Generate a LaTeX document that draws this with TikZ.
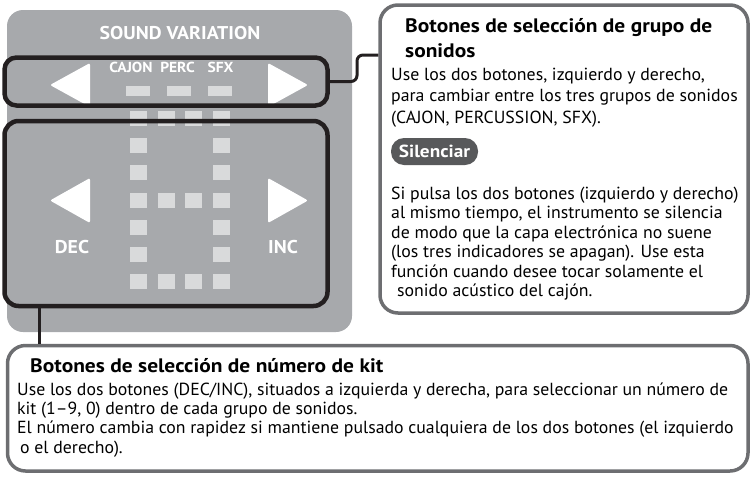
\documentclass[tikz,border=0pt]{standalone}
\usepackage{fontspec}
\setmainfont{PT Sans}
\newfontfamily\rfont[FakeStretch=1.017]{PT Sans}
\newfontfamily\bfont[FakeStretch=1.015]{PT Sans}
\newfontfamily\tfont[FakeStretch=1.10]{PT Sans}
\newfontfamily\pfont[FakeStretch=1.07]{PT Sans}
\definecolor{panelgray}{HTML}{A7A9AC}
\definecolor{ledgray}{HTML}{D9DADB}
\definecolor{ink}{HTML}{231F20}
\definecolor{framegray}{HTML}{6D6E71}
\definecolor{badgegray}{HTML}{58595B}
\begin{document}
\begin{tikzpicture}[x=1pt,y=-1pt,
  innerbox/.style={rectangle, draw=ink, line width=4.5pt, inner sep=0pt},
  framebox/.style={rectangle, draw=framegray, line width=3.5pt, rounded corners=18pt, inner sep=0pt},
  plbl/.style={text=white, inner sep=0pt, font=\pfont\bfseries\fontsize{#1}{#1}\selectfont},
  rbodytxt/.style={anchor=base west, inner sep=0pt, align=left, font=\rfont\fontsize{17.5}{#1}\selectfont},
  bbodytxt/.style={anchor=base west, inner sep=0pt, align=left, font=\bfont\fontsize{17.5}{#1}\selectfont},
  titletxt/.style={anchor=base west, inner sep=0pt, align=left, font=\tfont\bfseries\fontsize{19.5}{25}\selectfont},
  led/.style={fill=ledgray},
  tri/.style={fill=white, rounded corners=2pt},
  conn/.style={draw=ink, line width=3pt}
]
\useasboundingbox (0,0) rectangle (751,477);
% panel
\node[rectangle, fill=panelgray, rounded corners=16pt, minimum width=345pt, minimum height=322pt, inner sep=0pt] (panel) at (179.5,171) {};
% group LEDs
\fill[led] (126,86) rectangle (150,96);
\fill[led] (167,86) rectangle (191,96);
\fill[led] (208,86) rectangle (232,96);
% dot matrix
\foreach \r/\cols in {0/{0,1,2,3},1/{0,3},2/{0,3},3/{0,1,2,3},4/{0,3},5/{0,3},6/{0,1,2,3}}{
  \foreach \c in \cols {
    \fill[led] ({130+27.7*\c},{111+27.2*\r}) rectangle ++(17,15);
  }
}
% triangles
\fill[tri] (50,85) -- (90,63) -- (90,107) -- cycle;
\fill[tri] (308,85) -- (268,63) -- (268,107) -- cycle;
\fill[tri] (50,200.5) -- (90,178) -- (90,223) -- cycle;
\fill[tri] (308,200.5) -- (268,178) -- (268,223) -- cycle;
% panel labels
\node[plbl=18.5] (sv) at (180,33.5) {SOUND VARIATION};
\node[plbl=14.5] (cajon) at (131,67) {CAJON};
\node[plbl=14.5] (perc) at (177.5,67) {PERC};
\node[plbl=14.5] (sfx) at (220.5,67) {SFX};
\node[plbl=18.5] (dec) at (72,247) {DEC};
\node[plbl=18.5] (inc) at (283,247) {INC};
% inner boxes
\node[innerbox, rounded corners=12pt, minimum width=323pt, minimum height=48pt] (svbox) at (166,81.5) {};
\node[innerbox, rounded corners=14pt, minimum width=323pt, minimum height=185pt] (kitbox) at (166,213.5) {};
% right box
\node[framebox, minimum width=368pt, minimum height=308pt] (rbox) at (564,159) {};
\node[titletxt] (rtitle) at (405,57) {Botones de selección de grupo de\\sonidos};
\node[rbodytxt=21.5] (rbody) at (391,123) {Use los dos botones, izquierdo y derecho,\\para cambiar entre los tres grupos de sonidos\\(CAJON, PERCUSSION, SFX).};
\node[rectangle, fill=badgegray, rounded corners=13pt, minimum width=87pt, minimum height=27pt, inner sep=0pt, text=white, font=\tfont\bfseries\fontsize{17.5}{17.5}\selectfont] (badge) at (434.5,151.5) {Silenciar};
\node[rbodytxt=19.5] (rbody2) at (391,296.5) {Si pulsa los dos botones (izquierdo y derecho)\\al mismo tiempo, el instrumento se silencia\\de modo que la capa electrónica no suene\\(los tres indicadores se apagan). Use esta\\función cuando desee tocar solamente el\\\hspace*{6pt}sonido acústico del cajón.};
% bottom box
\node[framebox, minimum width=740.5pt, minimum height=125.5pt] (bbox) at (377.75,408.25) {};
\node[titletxt] (btitle) at (30,372) {Botones de selección de número de kit};
\node[bbodytxt=19.3] (bbody) at (17,453) {Use los dos botones (DEC/INC), situados a izquierda y derecha, para seleccionar un número de\\kit (1–9, 0) dentro de cada grupo de sonidos.\\El número cambia con rapidez si mantiene pulsado cualquiera de los dos botones (el izquierdo\\\hspace*{3pt}o el derecho).};
% connectors
\draw[conn, rounded corners=6pt] (svbox.east) -- (357,81.5) -- (357,55) -- (rbox.west |- 0,55);
\coordinate (kx) at (39.5,0);
\draw[conn] (kx |- kitbox.south) -- (kx |- bbox.north);
\end{tikzpicture}
\end{document}
